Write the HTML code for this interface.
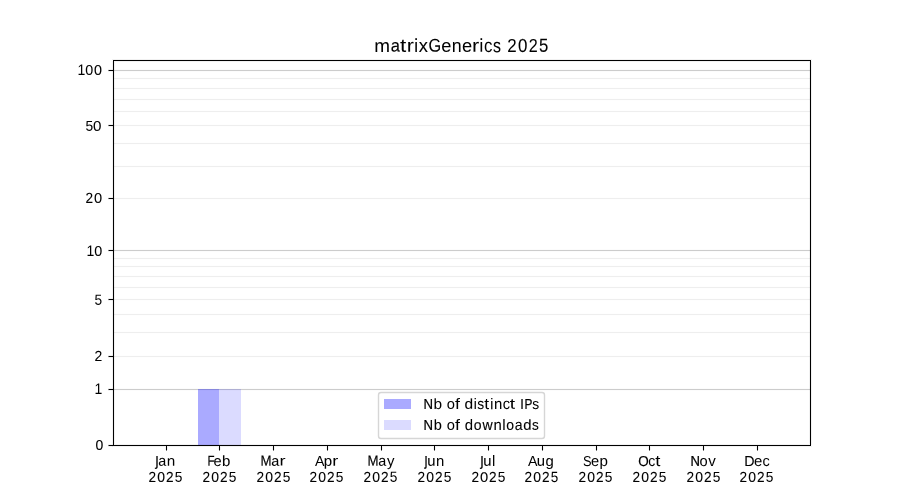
<!DOCTYPE html>
<html><head><meta charset="utf-8"><style>
html,body{margin:0;padding:0;background:#fff;width:900px;height:500px;overflow:hidden}
svg{position:absolute;left:0;top:0;display:block;will-change:transform}
text{font-family:"Liberation Sans",sans-serif;fill:#000}
</style></head><body>
<svg width="900" height="500" viewBox="0 0 900 500">
<rect x="0" y="0" width="900" height="500" fill="#fff"/>
<g shape-rendering="crispEdges">
<rect x="113" y="69" width="697" height="1" fill="rgba(204,204,204,0.06)"/>
<rect x="113" y="71" width="697" height="1" fill="rgba(204,204,204,0.06)"/>
<rect x="113" y="70" width="697" height="1" fill="#cccccc"/>
<rect x="113" y="249" width="697" height="1" fill="rgba(204,204,204,0.06)"/>
<rect x="113" y="251" width="697" height="1" fill="rgba(204,204,204,0.06)"/>
<rect x="113" y="250" width="697" height="1" fill="#cccccc"/>
<rect x="113" y="388" width="697" height="1" fill="rgba(204,204,204,0.06)"/>
<rect x="113" y="390" width="697" height="1" fill="rgba(204,204,204,0.06)"/>
<rect x="113" y="389" width="697" height="1" fill="#cccccc"/>
<rect x="113" y="77" width="697" height="1" fill="rgba(238,238,238,0.06)"/>
<rect x="113" y="79" width="697" height="1" fill="rgba(238,238,238,0.06)"/>
<rect x="113" y="78" width="697" height="1" fill="#eeeeee"/>
<rect x="113" y="87" width="697" height="1" fill="rgba(238,238,238,0.06)"/>
<rect x="113" y="89" width="697" height="1" fill="rgba(238,238,238,0.06)"/>
<rect x="113" y="88" width="697" height="1" fill="#eeeeee"/>
<rect x="113" y="98" width="697" height="1" fill="rgba(238,238,238,0.06)"/>
<rect x="113" y="100" width="697" height="1" fill="rgba(238,238,238,0.06)"/>
<rect x="113" y="99" width="697" height="1" fill="#eeeeee"/>
<rect x="113" y="110" width="697" height="1" fill="rgba(238,238,238,0.06)"/>
<rect x="113" y="112" width="697" height="1" fill="rgba(238,238,238,0.06)"/>
<rect x="113" y="111" width="697" height="1" fill="#eeeeee"/>
<rect x="113" y="124" width="697" height="1" fill="rgba(238,238,238,0.06)"/>
<rect x="113" y="126" width="697" height="1" fill="rgba(238,238,238,0.06)"/>
<rect x="113" y="125" width="697" height="1" fill="#eeeeee"/>
<rect x="113" y="142" width="697" height="1" fill="rgba(238,238,238,0.06)"/>
<rect x="113" y="144" width="697" height="1" fill="rgba(238,238,238,0.06)"/>
<rect x="113" y="143" width="697" height="1" fill="#eeeeee"/>
<rect x="113" y="165" width="697" height="1" fill="rgba(238,238,238,0.06)"/>
<rect x="113" y="167" width="697" height="1" fill="rgba(238,238,238,0.06)"/>
<rect x="113" y="166" width="697" height="1" fill="#eeeeee"/>
<rect x="113" y="197" width="697" height="1" fill="rgba(238,238,238,0.06)"/>
<rect x="113" y="199" width="697" height="1" fill="rgba(238,238,238,0.06)"/>
<rect x="113" y="198" width="697" height="1" fill="#eeeeee"/>
<rect x="113" y="257" width="697" height="1" fill="rgba(238,238,238,0.06)"/>
<rect x="113" y="259" width="697" height="1" fill="rgba(238,238,238,0.06)"/>
<rect x="113" y="258" width="697" height="1" fill="#eeeeee"/>
<rect x="113" y="265" width="697" height="1" fill="rgba(238,238,238,0.06)"/>
<rect x="113" y="267" width="697" height="1" fill="rgba(238,238,238,0.06)"/>
<rect x="113" y="266" width="697" height="1" fill="#eeeeee"/>
<rect x="113" y="275" width="697" height="1" fill="rgba(238,238,238,0.06)"/>
<rect x="113" y="277" width="697" height="1" fill="rgba(238,238,238,0.06)"/>
<rect x="113" y="276" width="697" height="1" fill="#eeeeee"/>
<rect x="113" y="286" width="697" height="1" fill="rgba(238,238,238,0.06)"/>
<rect x="113" y="288" width="697" height="1" fill="rgba(238,238,238,0.06)"/>
<rect x="113" y="287" width="697" height="1" fill="#eeeeee"/>
<rect x="113" y="298" width="697" height="1" fill="rgba(238,238,238,0.06)"/>
<rect x="113" y="300" width="697" height="1" fill="rgba(238,238,238,0.06)"/>
<rect x="113" y="299" width="697" height="1" fill="#eeeeee"/>
<rect x="113" y="313" width="697" height="1" fill="rgba(238,238,238,0.06)"/>
<rect x="113" y="315" width="697" height="1" fill="rgba(238,238,238,0.06)"/>
<rect x="113" y="314" width="697" height="1" fill="#eeeeee"/>
<rect x="113" y="331" width="697" height="1" fill="rgba(238,238,238,0.06)"/>
<rect x="113" y="333" width="697" height="1" fill="rgba(238,238,238,0.06)"/>
<rect x="113" y="332" width="697" height="1" fill="#eeeeee"/>
<rect x="113" y="355" width="697" height="1" fill="rgba(238,238,238,0.06)"/>
<rect x="113" y="357" width="697" height="1" fill="rgba(238,238,238,0.06)"/>
<rect x="113" y="356" width="697" height="1" fill="#eeeeee"/>
<rect x="198" y="389" width="21" height="56" fill="rgba(0,0,255,0.3333)"/>
<rect x="219" y="389" width="22" height="56" fill="rgba(0,0,255,0.14)"/>
<rect x="112" y="59" width="700" height="1" fill="rgba(0,0,0,0.055)"/>
<rect x="112" y="61" width="700" height="1" fill="rgba(0,0,0,0.055)"/>
<rect x="112" y="444" width="700" height="1" fill="rgba(0,0,0,0.055)"/>
<rect x="112" y="446" width="700" height="1" fill="rgba(0,0,0,0.055)"/>
<rect x="112" y="62" width="1" height="382" fill="rgba(0,0,0,0.055)"/>
<rect x="114" y="62" width="1" height="382" fill="rgba(0,0,0,0.055)"/>
<rect x="809" y="62" width="1" height="382" fill="rgba(0,0,0,0.055)"/>
<rect x="811" y="62" width="1" height="382" fill="rgba(0,0,0,0.055)"/>
<rect x="113" y="60" width="698" height="1" fill="#000"/>
<rect x="113" y="445" width="698" height="1" fill="#000"/>
<rect x="113" y="61" width="1" height="384" fill="#000"/>
<rect x="810" y="61" width="1" height="384" fill="#000"/>
<rect x="108" y="69" width="5" height="1" fill="rgba(0,0,0,0.055)"/>
<rect x="108" y="71" width="5" height="1" fill="rgba(0,0,0,0.055)"/>
<rect x="109" y="70" width="4" height="1" fill="#000"/>
<rect x="108" y="70" width="1" height="1" fill="#7f7f7f"/>
<rect x="108" y="124" width="5" height="1" fill="rgba(0,0,0,0.055)"/>
<rect x="108" y="126" width="5" height="1" fill="rgba(0,0,0,0.055)"/>
<rect x="109" y="125" width="4" height="1" fill="#000"/>
<rect x="108" y="125" width="1" height="1" fill="#7f7f7f"/>
<rect x="108" y="197" width="5" height="1" fill="rgba(0,0,0,0.055)"/>
<rect x="108" y="199" width="5" height="1" fill="rgba(0,0,0,0.055)"/>
<rect x="109" y="198" width="4" height="1" fill="#000"/>
<rect x="108" y="198" width="1" height="1" fill="#7f7f7f"/>
<rect x="108" y="249" width="5" height="1" fill="rgba(0,0,0,0.055)"/>
<rect x="108" y="251" width="5" height="1" fill="rgba(0,0,0,0.055)"/>
<rect x="109" y="250" width="4" height="1" fill="#000"/>
<rect x="108" y="250" width="1" height="1" fill="#7f7f7f"/>
<rect x="108" y="298" width="5" height="1" fill="rgba(0,0,0,0.055)"/>
<rect x="108" y="300" width="5" height="1" fill="rgba(0,0,0,0.055)"/>
<rect x="109" y="299" width="4" height="1" fill="#000"/>
<rect x="108" y="299" width="1" height="1" fill="#7f7f7f"/>
<rect x="108" y="355" width="5" height="1" fill="rgba(0,0,0,0.055)"/>
<rect x="108" y="357" width="5" height="1" fill="rgba(0,0,0,0.055)"/>
<rect x="109" y="356" width="4" height="1" fill="#000"/>
<rect x="108" y="356" width="1" height="1" fill="#7f7f7f"/>
<rect x="108" y="388" width="5" height="1" fill="rgba(0,0,0,0.055)"/>
<rect x="108" y="390" width="5" height="1" fill="rgba(0,0,0,0.055)"/>
<rect x="109" y="389" width="4" height="1" fill="#000"/>
<rect x="108" y="389" width="1" height="1" fill="#7f7f7f"/>
<rect x="108" y="444" width="5" height="1" fill="rgba(0,0,0,0.055)"/>
<rect x="108" y="446" width="5" height="1" fill="rgba(0,0,0,0.055)"/>
<rect x="109" y="445" width="4" height="1" fill="#000"/>
<rect x="108" y="445" width="1" height="1" fill="#7f7f7f"/>
<rect x="165" y="447" width="1" height="3" fill="rgba(0,0,0,0.055)"/>
<rect x="167" y="447" width="1" height="3" fill="rgba(0,0,0,0.055)"/>
<rect x="166" y="446" width="1" height="4" fill="#000"/>
<rect x="166" y="450" width="1" height="1" fill="#7f7f7f"/>
<rect x="218" y="447" width="1" height="3" fill="rgba(0,0,0,0.055)"/>
<rect x="220" y="447" width="1" height="3" fill="rgba(0,0,0,0.055)"/>
<rect x="219" y="446" width="1" height="4" fill="#000"/>
<rect x="219" y="450" width="1" height="1" fill="#7f7f7f"/>
<rect x="272" y="447" width="1" height="3" fill="rgba(0,0,0,0.055)"/>
<rect x="274" y="447" width="1" height="3" fill="rgba(0,0,0,0.055)"/>
<rect x="273" y="446" width="1" height="4" fill="#000"/>
<rect x="273" y="450" width="1" height="1" fill="#7f7f7f"/>
<rect x="326" y="447" width="1" height="3" fill="rgba(0,0,0,0.055)"/>
<rect x="328" y="447" width="1" height="3" fill="rgba(0,0,0,0.055)"/>
<rect x="327" y="446" width="1" height="4" fill="#000"/>
<rect x="327" y="450" width="1" height="1" fill="#7f7f7f"/>
<rect x="380" y="447" width="1" height="3" fill="rgba(0,0,0,0.055)"/>
<rect x="382" y="447" width="1" height="3" fill="rgba(0,0,0,0.055)"/>
<rect x="381" y="446" width="1" height="4" fill="#000"/>
<rect x="381" y="450" width="1" height="1" fill="#7f7f7f"/>
<rect x="433" y="447" width="1" height="3" fill="rgba(0,0,0,0.055)"/>
<rect x="435" y="447" width="1" height="3" fill="rgba(0,0,0,0.055)"/>
<rect x="434" y="446" width="1" height="4" fill="#000"/>
<rect x="434" y="450" width="1" height="1" fill="#7f7f7f"/>
<rect x="487" y="447" width="1" height="3" fill="rgba(0,0,0,0.055)"/>
<rect x="489" y="447" width="1" height="3" fill="rgba(0,0,0,0.055)"/>
<rect x="488" y="446" width="1" height="4" fill="#000"/>
<rect x="488" y="450" width="1" height="1" fill="#7f7f7f"/>
<rect x="541" y="447" width="1" height="3" fill="rgba(0,0,0,0.055)"/>
<rect x="543" y="447" width="1" height="3" fill="rgba(0,0,0,0.055)"/>
<rect x="542" y="446" width="1" height="4" fill="#000"/>
<rect x="542" y="450" width="1" height="1" fill="#7f7f7f"/>
<rect x="595" y="447" width="1" height="3" fill="rgba(0,0,0,0.055)"/>
<rect x="597" y="447" width="1" height="3" fill="rgba(0,0,0,0.055)"/>
<rect x="596" y="446" width="1" height="4" fill="#000"/>
<rect x="596" y="450" width="1" height="1" fill="#7f7f7f"/>
<rect x="648" y="447" width="1" height="3" fill="rgba(0,0,0,0.055)"/>
<rect x="650" y="447" width="1" height="3" fill="rgba(0,0,0,0.055)"/>
<rect x="649" y="446" width="1" height="4" fill="#000"/>
<rect x="649" y="450" width="1" height="1" fill="#7f7f7f"/>
<rect x="702" y="447" width="1" height="3" fill="rgba(0,0,0,0.055)"/>
<rect x="704" y="447" width="1" height="3" fill="rgba(0,0,0,0.055)"/>
<rect x="703" y="446" width="1" height="4" fill="#000"/>
<rect x="703" y="450" width="1" height="1" fill="#7f7f7f"/>
<rect x="756" y="447" width="1" height="3" fill="rgba(0,0,0,0.055)"/>
<rect x="758" y="447" width="1" height="3" fill="rgba(0,0,0,0.055)"/>
<rect x="757" y="446" width="1" height="4" fill="#000"/>
<rect x="757" y="450" width="1" height="1" fill="#7f7f7f"/>
</g>
<rect x="378.5" y="392.5" width="166" height="46" rx="2.5" ry="2.5" fill="rgba(255,255,255,0.8)" stroke="#d6d6d6" stroke-width="1.39"/><rect x="384" y="399" width="27" height="10" fill="rgba(0,0,255,0.3333)" shape-rendering="crispEdges"/><rect x="384" y="420" width="27" height="10" fill="rgba(0,0,255,0.14)" shape-rendering="crispEdges"/>
<g>
<text transform="matrix(1.0720 0.001 0 1.0414 374.267 52.034)" font-size="17.660" stroke="#000" stroke-width="0.037">m</text>
<text transform="matrix(0.9357 0.001 0 1.0077 390.843 51.404)" font-size="17.660" stroke="#000" stroke-width="0.109">a</text>
<text transform="matrix(1.2777 0.001 0 1.0531 399.957 51.814)" font-size="17.660">t</text>
<text transform="matrix(1.2168 0.001 0 1.0414 406.726 51.784)" font-size="17.660">r</text>
<text transform="matrix(0.9664 0.001 0 1.0698 414.165 51.978)" font-size="17.660" stroke="#000" stroke-width="0.112">i</text>
<text transform="matrix(1.0389 0.001 0 1.0814 418.663 51.990)" font-size="17.660" stroke="#000" stroke-width="0.065">x</text>
<text transform="matrix(0.9225 0.001 0 1.0385 428.541 51.462)" font-size="17.660" stroke="#000" stroke-width="0.048">G</text>
<text transform="matrix(1.0363 0.001 0 1.0227 441.146 51.724)" font-size="17.660">e</text>
<text transform="matrix(1.0093 0.001 0 1.0614 451.664 51.879)" font-size="17.660">n</text>
<text transform="matrix(1.0363 0.001 0 1.0277 461.911 51.748)" font-size="17.660">e</text>
<text transform="matrix(1.2268 0.001 0 1.0414 472.111 51.784)" font-size="17.660">r</text>
<text transform="matrix(0.9414 0.001 0 1.0498 479.383 51.730)" font-size="17.660" stroke="#000" stroke-width="0.095">i</text>
<text transform="matrix(0.9540 0.001 0 1.0877 483.950 52.028)" font-size="17.660">c</text>
<text transform="matrix(0.9009 0.001 0 1.1104 492.886 52.369)" font-size="17.660" stroke="#000" stroke-width="0.072">s</text>
<text transform="matrix(0.9575 0.001 0 1.0638 507.237 52.090)" font-size="17.660" stroke="#000" stroke-width="0.009">2</text>
<text transform="matrix(0.9571 0.001 0 1.0635 518.027 52.114)" font-size="17.660" stroke="#000" stroke-width="0.103">0</text>
<text transform="matrix(0.9125 0.001 0 1.0638 528.863 52.090)" font-size="17.660" stroke="#000" stroke-width="0.028">2</text>
<text transform="matrix(0.9468 0.001 0 1.0746 538.921 51.701)" font-size="17.660" stroke="#000" stroke-width="0.102">5</text>
<text transform="matrix(0.9531 0.001 0 1.0327 77.401 74.970)" font-size="14.717">1</text>
<text transform="matrix(0.9728 0.001 0 0.9467 85.214 74.796)" font-size="14.717" stroke="#000" stroke-width="0.051">0</text>
<text transform="matrix(0.9728 0.001 0 0.9467 94.042 74.796)" font-size="14.717" stroke="#000" stroke-width="0.103">0</text>
<text transform="matrix(0.9360 0.001 0 0.9684 85.621 130.677)" font-size="14.717" stroke="#000" stroke-width="0.031">5</text>
<text transform="matrix(1.0328 0.001 0 0.9567 93.109 130.847)" font-size="14.717" stroke="#000" stroke-width="0.048">0</text>
<text transform="matrix(0.9278 0.001 0 1.0062 85.555 203.068)" font-size="14.717" stroke="#000" stroke-width="0.089">2</text>
<text transform="matrix(0.9978 0.001 0 0.9517 94.034 202.821)" font-size="14.717" stroke="#000" stroke-width="0.040">0</text>
<text transform="matrix(0.9531 0.001 0 1.0327 86.564 255.970)" font-size="14.717">1</text>
<text transform="matrix(0.9778 0.001 0 0.9517 94.358 255.821)" font-size="14.717" stroke="#000" stroke-width="0.051">0</text>
<text transform="matrix(0.9310 0.001 0 0.9984 94.453 304.733)" font-size="14.717">5</text>
<text transform="matrix(0.9478 0.001 0 0.9912 94.621 361.093)" font-size="14.717" stroke="#000" stroke-width="0.030">2</text>
<text transform="matrix(0.9531 0.001 0 1.0327 94.408 393.978)" font-size="14.717">1</text>
<text transform="matrix(0.9478 0.001 0 0.9467 95.621 449.796)" font-size="14.717" stroke="#000" stroke-width="0.137">0</text>
<text transform="matrix(1.0700 0.001 0 1.2005 155.179 465.334)" font-size="14.717" stroke="#000" stroke-width="0.017">ȷ</text>
<text transform="matrix(0.9745 0.001 0 1.0080 158.226 465.802)" font-size="14.717" stroke="#000" stroke-width="0.030">a</text>
<text transform="matrix(1.0397 0.001 0 0.9755 166.773 465.644)" font-size="14.717" stroke="#000" stroke-width="0.010">n</text>
<text transform="matrix(0.9278 0.001 0 0.9912 148.375 481.991)" font-size="14.717" stroke="#000" stroke-width="0.071">2</text>
<text transform="matrix(0.9478 0.001 0 0.9517 157.129 481.821)" font-size="14.717" stroke="#000" stroke-width="0.137">0</text>
<text transform="matrix(0.9278 0.001 0 0.9912 166.031 481.991)" font-size="14.717" stroke="#000" stroke-width="0.081">2</text>
<text transform="matrix(0.9310 0.001 0 0.9684 174.726 481.677)" font-size="14.717" stroke="#000" stroke-width="0.031">5</text>
<text transform="matrix(0.7831 0.001 0 0.9877 207.417 465.868)" font-size="14.717" stroke="#000" stroke-width="0.152">F</text>
<text transform="matrix(0.9932 0.001 0 1.0230 213.375 465.876)" font-size="14.717" stroke="#000" stroke-width="0.029">e</text>
<text transform="matrix(1.0196 0.001 0 1.0033 221.995 466.028)" font-size="14.717" stroke="#000" stroke-width="0.098">b</text>
<text transform="matrix(0.9278 0.001 0 0.9912 202.375 481.991)" font-size="14.717" stroke="#000" stroke-width="0.071">2</text>
<text transform="matrix(0.9478 0.001 0 0.9467 211.309 481.796)" font-size="14.717" stroke="#000" stroke-width="0.106">0</text>
<text transform="matrix(0.9278 0.001 0 0.9912 220.031 481.991)" font-size="14.717" stroke="#000" stroke-width="0.081">2</text>
<text transform="matrix(0.9310 0.001 0 0.9684 228.726 481.677)" font-size="14.717" stroke="#000" stroke-width="0.031">5</text>
<text transform="matrix(0.9012 0.001 0 1.0177 260.450 465.801)" font-size="14.717" stroke="#000" stroke-width="0.147">M</text>
<text transform="matrix(0.9795 0.001 0 0.9780 271.308 465.732)" font-size="14.717" stroke="#000" stroke-width="0.082">a</text>
<text transform="matrix(1.2361 0.001 0 0.9605 279.458 465.381)" font-size="14.717">r</text>
<text transform="matrix(0.9278 0.001 0 0.9912 256.375 481.991)" font-size="14.717" stroke="#000" stroke-width="0.071">2</text>
<text transform="matrix(0.9478 0.001 0 0.9467 265.309 481.796)" font-size="14.717" stroke="#000" stroke-width="0.106">0</text>
<text transform="matrix(0.9278 0.001 0 0.9912 274.031 481.991)" font-size="14.717" stroke="#000" stroke-width="0.081">2</text>
<text transform="matrix(0.9310 0.001 0 0.9684 282.726 481.677)" font-size="14.717" stroke="#000" stroke-width="0.031">5</text>
<text transform="matrix(0.9645 0.001 0 0.9977 314.953 466.098)" font-size="14.717">A</text>
<text transform="matrix(1.0246 0.001 0 0.9803 323.730 465.871)" font-size="14.717" stroke="#000" stroke-width="0.049">p</text>
<text transform="matrix(1.2311 0.001 0 0.9955 332.260 465.668)" font-size="14.717">r</text>
<text transform="matrix(0.9278 0.001 0 0.9912 309.375 481.991)" font-size="14.717" stroke="#000" stroke-width="0.071">2</text>
<text transform="matrix(0.9478 0.001 0 0.9467 318.309 481.796)" font-size="14.717" stroke="#000" stroke-width="0.106">0</text>
<text transform="matrix(0.9278 0.001 0 0.9912 327.031 482.111)" font-size="14.717" stroke="#000" stroke-width="0.081">2</text>
<text transform="matrix(0.9310 0.001 0 0.9684 335.726 481.677)" font-size="14.717" stroke="#000" stroke-width="0.031">5</text>
<text transform="matrix(0.9012 0.001 0 1.0177 367.403 465.699)" font-size="14.717" stroke="#000" stroke-width="0.147">M</text>
<text transform="matrix(0.9745 0.001 0 1.0080 378.283 465.747)" font-size="14.717" stroke="#000" stroke-width="0.030">a</text>
<text transform="matrix(1.0161 0.001 0 1.0404 387.086 466.039)" font-size="14.717">y</text>
<text transform="matrix(0.9278 0.001 0 0.9912 363.375 481.991)" font-size="14.717" stroke="#000" stroke-width="0.071">2</text>
<text transform="matrix(0.9478 0.001 0 0.9467 372.309 481.796)" font-size="14.717" stroke="#000" stroke-width="0.106">0</text>
<text transform="matrix(0.9278 0.001 0 0.9912 381.031 481.991)" font-size="14.717" stroke="#000" stroke-width="0.081">2</text>
<text transform="matrix(0.9310 0.001 0 0.9984 389.846 481.836)" font-size="14.717">5</text>
<text transform="matrix(0.9400 0.001 0 1.1805 424.588 465.287)" font-size="14.717" stroke="#000" stroke-width="0.110">ȷ</text>
<text transform="matrix(1.0047 0.001 0 1.0012 427.212 465.823)" font-size="14.717" stroke="#000" stroke-width="0.070">u</text>
<text transform="matrix(1.0147 0.001 0 1.0155 436.022 466.052)" font-size="14.717">n</text>
<text transform="matrix(0.9278 0.001 0 0.9912 417.375 481.991)" font-size="14.717" stroke="#000" stroke-width="0.071">2</text>
<text transform="matrix(0.9478 0.001 0 0.9517 426.309 481.821)" font-size="14.717" stroke="#000" stroke-width="0.105">0</text>
<text transform="matrix(0.9278 0.001 0 0.9912 435.031 481.991)" font-size="14.717" stroke="#000" stroke-width="0.081">2</text>
<text transform="matrix(0.9310 0.001 0 0.9684 443.726 481.677)" font-size="14.717" stroke="#000" stroke-width="0.031">5</text>
<text transform="matrix(1.0700 0.001 0 1.2005 480.367 465.303)" font-size="14.717" stroke="#000" stroke-width="0.017">ȷ</text>
<text transform="matrix(1.0047 0.001 0 1.0012 483.236 465.792)" font-size="14.717" stroke="#000" stroke-width="0.070">u</text>
<text transform="matrix(1.0164 0.001 0 1.0378 492.043 465.885)" font-size="14.717">l</text>
<text transform="matrix(0.9278 0.001 0 0.9912 471.375 481.991)" font-size="14.717" stroke="#000" stroke-width="0.071">2</text>
<text transform="matrix(1.0028 0.001 0 0.9167 479.964 481.644)" font-size="14.717" stroke="#000" stroke-width="0.080">0</text>
<text transform="matrix(0.9278 0.001 0 0.9912 489.031 481.991)" font-size="14.717" stroke="#000" stroke-width="0.081">2</text>
<text transform="matrix(0.9310 0.001 0 0.9684 497.726 481.677)" font-size="14.717" stroke="#000" stroke-width="0.031">5</text>
<text transform="matrix(0.9645 0.001 0 0.9977 528.038 466.098)" font-size="14.717">A</text>
<text transform="matrix(1.0097 0.001 0 1.0012 536.759 465.648)" font-size="14.717" stroke="#000" stroke-width="0.050">u</text>
<text transform="matrix(1.0146 0.001 0 1.0016 545.486 466.095)" font-size="14.717" stroke="#000" stroke-width="0.030">g</text>
<text transform="matrix(0.9278 0.001 0 0.9912 524.375 481.991)" font-size="14.717" stroke="#000" stroke-width="0.071">2</text>
<text transform="matrix(0.9478 0.001 0 0.9467 533.309 481.796)" font-size="14.717" stroke="#000" stroke-width="0.106">0</text>
<text transform="matrix(0.9278 0.001 0 0.9912 542.031 481.991)" font-size="14.717" stroke="#000" stroke-width="0.081">2</text>
<text transform="matrix(0.9160 0.001 0 1.0134 550.667 482.021)" font-size="14.717">5</text>
<text transform="matrix(0.8691 0.001 0 0.9767 583.058 466.097)" font-size="14.717">S</text>
<text transform="matrix(0.9932 0.001 0 1.0180 590.882 465.880)" font-size="14.717" stroke="#000" stroke-width="0.029">e</text>
<text transform="matrix(1.0296 0.001 0 1.0153 599.460 465.990)" font-size="14.717" stroke="#000" stroke-width="0.019">p</text>
<text transform="matrix(0.9278 0.001 0 0.9912 578.375 481.991)" font-size="14.717" stroke="#000" stroke-width="0.071">2</text>
<text transform="matrix(0.9478 0.001 0 0.9467 587.309 481.796)" font-size="14.717" stroke="#000" stroke-width="0.106">0</text>
<text transform="matrix(0.9278 0.001 0 0.9912 596.031 481.991)" font-size="14.717" stroke="#000" stroke-width="0.081">2</text>
<text transform="matrix(0.9310 0.001 0 0.9684 604.726 481.677)" font-size="14.717" stroke="#000" stroke-width="0.031">5</text>
<text transform="matrix(0.9167 0.001 0 0.9767 638.247 465.948)" font-size="14.717" stroke="#000" stroke-width="0.184">O</text>
<text transform="matrix(0.9506 0.001 0 1.0280 648.356 466.020)" font-size="14.717">c</text>
<text transform="matrix(1.2597 0.001 0 1.0407 655.174 466.070)" font-size="14.717">t</text>
<text transform="matrix(0.9278 0.001 0 0.9912 632.375 481.991)" font-size="14.717" stroke="#000" stroke-width="0.071">2</text>
<text transform="matrix(0.9478 0.001 0 0.9467 641.309 481.796)" font-size="14.717" stroke="#000" stroke-width="0.106">0</text>
<text transform="matrix(0.9278 0.001 0 0.9912 650.031 481.991)" font-size="14.717" stroke="#000" stroke-width="0.081">2</text>
<text transform="matrix(0.9310 0.001 0 0.9684 658.726 481.677)" font-size="14.717" stroke="#000" stroke-width="0.031">5</text>
<text transform="matrix(0.8913 0.001 0 0.9527 690.436 465.722)" font-size="14.717" stroke="#000" stroke-width="0.294">N</text>
<text transform="matrix(0.9979 0.001 0 1.0130 699.533 466.118)" font-size="14.717" stroke="#000" stroke-width="0.020">o</text>
<text transform="matrix(1.0261 0.001 0 1.0147 708.190 466.117)" font-size="14.717">v</text>
<text transform="matrix(0.9278 0.001 0 0.9912 686.375 481.991)" font-size="14.717" stroke="#000" stroke-width="0.071">2</text>
<text transform="matrix(0.9478 0.001 0 0.9467 695.309 481.796)" font-size="14.717" stroke="#000" stroke-width="0.106">0</text>
<text transform="matrix(0.9278 0.001 0 0.9912 704.031 481.991)" font-size="14.717" stroke="#000" stroke-width="0.081">2</text>
<text transform="matrix(0.9310 0.001 0 0.9684 712.726 481.677)" font-size="14.717" stroke="#000" stroke-width="0.031">5</text>
<text transform="matrix(0.9702 0.001 0 0.9777 744.287 466.098)" font-size="14.717" stroke="#000" stroke-width="0.051">D</text>
<text transform="matrix(1.0132 0.001 0 1.0180 753.911 465.887)" font-size="14.717" stroke="#000" stroke-width="0.029">e</text>
<text transform="matrix(0.9856 0.001 0 1.0280 762.570 465.926)" font-size="14.717">c</text>
<text transform="matrix(0.9278 0.001 0 0.9912 739.375 481.991)" font-size="14.717" stroke="#000" stroke-width="0.071">2</text>
<text transform="matrix(0.9478 0.001 0 0.9467 748.309 481.796)" font-size="14.717" stroke="#000" stroke-width="0.106">0</text>
<text transform="matrix(0.9278 0.001 0 0.9912 757.031 481.991)" font-size="14.717" stroke="#000" stroke-width="0.081">2</text>
<text transform="matrix(0.9310 0.001 0 0.9684 765.726 481.677)" font-size="14.717" stroke="#000" stroke-width="0.031">5</text>
<text transform="matrix(0.8963 0.001 0 0.9877 423.443 409.118)" font-size="14.717" stroke="#000" stroke-width="0.223">N</text>
<text transform="matrix(1.0496 0.001 0 1.0183 433.589 409.107)" font-size="14.717">b</text>
<text transform="matrix(0.9979 0.001 0 0.9780 446.785 408.701)" font-size="14.717">o</text>
<text transform="matrix(1.2064 0.001 0 1.0442 454.987 408.958)" font-size="14.717">f</text>
<text transform="matrix(1.0546 0.001 0 0.9733 464.418 408.870)" font-size="14.717" stroke="#000" stroke-width="0.028">d</text>
<text transform="matrix(0.9314 0.001 0 1.0278 473.629 408.879)" font-size="14.717" stroke="#000" stroke-width="0.078">i</text>
<text transform="matrix(0.9434 0.001 0 1.0307 477.301 408.894)" font-size="14.717">s</text>
<text transform="matrix(1.1847 0.001 0 1.0407 484.296 408.945)" font-size="14.717">t</text>
<text transform="matrix(0.9114 0.001 0 1.0578 490.185 409.289)" font-size="14.717" stroke="#000" stroke-width="0.170">i</text>
<text transform="matrix(1.0147 0.001 0 1.0305 494.113 408.877)" font-size="14.717" stroke="#000" stroke-width="0.049">n</text>
<text transform="matrix(0.9906 0.001 0 1.0580 502.637 409.012)" font-size="14.717">c</text>
<text transform="matrix(1.2997 0.001 0 1.0007 509.772 408.757)" font-size="14.717" stroke="#000" stroke-width="0.038">t</text>
<text transform="matrix(0.9918 0.001 0 0.9977 519.882 408.918)" font-size="14.717" stroke="#000" stroke-width="0.020">I</text>
<text transform="matrix(0.8038 0.001 0 0.9877 524.461 409.118)" font-size="14.717" stroke="#000" stroke-width="0.233">P</text>
<text transform="matrix(0.9384 0.001 0 1.0107 532.325 409.067)" font-size="14.717" stroke="#000" stroke-width="0.030">s</text>
<text transform="matrix(0.8963 0.001 0 0.9877 423.482 430.118)" font-size="14.717" stroke="#000" stroke-width="0.233">N</text>
<text transform="matrix(0.9896 0.001 0 0.9883 433.632 429.699)" font-size="14.717" stroke="#000" stroke-width="0.101">b</text>
<text transform="matrix(0.9979 0.001 0 0.9780 446.824 429.701)" font-size="14.717">o</text>
<text transform="matrix(1.2064 0.001 0 1.0442 455.026 429.958)" font-size="14.717">f</text>
<text transform="matrix(1.0146 0.001 0 1.0233 464.863 429.883)" font-size="14.717" stroke="#000" stroke-width="0.029">d</text>
<text transform="matrix(0.9529 0.001 0 0.9580 473.849 429.873)" font-size="14.717" stroke="#000" stroke-width="0.115">o</text>
<text transform="matrix(0.9584 0.001 0 1.0247 482.560 430.124)" font-size="14.717" stroke="#000" stroke-width="0.146">w</text>
<text transform="matrix(1.0147 0.001 0 1.0305 493.610 429.877)" font-size="14.717" stroke="#000" stroke-width="0.049">n</text>
<text transform="matrix(0.8814 0.001 0 0.9878 502.623 429.665)" font-size="14.717" stroke="#000" stroke-width="0.283">l</text>
<text transform="matrix(0.9529 0.001 0 0.9680 506.335 429.782)" font-size="14.717" stroke="#000" stroke-width="0.083">o</text>
<text transform="matrix(0.9595 0.001 0 1.0430 514.786 429.953)" font-size="14.717" stroke="#000" stroke-width="0.058">a</text>
<text transform="matrix(1.0096 0.001 0 0.9883 523.167 429.699)" font-size="14.717" stroke="#000" stroke-width="0.109">d</text>
<text transform="matrix(0.9184 0.001 0 0.9907 532.109 429.739)" font-size="14.717" stroke="#000" stroke-width="0.121">s</text>
</g>
</svg>
</body></html>
